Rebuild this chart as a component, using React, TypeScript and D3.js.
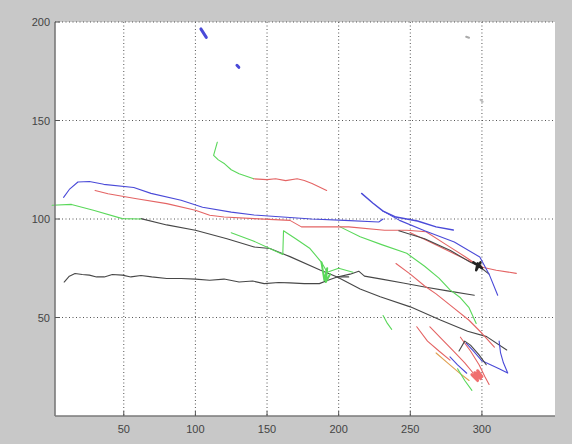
import * as d3 from "d3";

const W = 572, H = 444;
const M = { left: 55, right: 555, top: 22, bottom: 416 };

const xTicks = [50, 100, 150, 200, 250, 300];
const yTicks = [50, 100, 150, 200];

type Pt = [number, number];

// trajectories (image x, image y)
const blueMain: Pt[] = [[8, 111], [12, 115], [18, 118.8], [26, 119], [36, 117.6], [57, 116], [69, 113], [90, 109.5], [105, 106], [125, 103.5], [141, 102], [161, 101], [181, 100], [204, 99.3], [228, 98.5], [231, 100]];
const blueBranch: Pt[] = [[216, 113], [224, 108], [231, 104], [240, 101], [255, 99], [268, 96], [280, 94.4]];
const blueDown: Pt[] = [[231, 104], [242.5, 99.3], [260, 94], [280.7, 88.3], [298.5, 80.7], [305, 72], [311, 61.3]];
const redMain: Pt[] = [[30, 114.5], [39, 112.8], [59, 110.3], [80, 107.8], [100, 104.4], [110, 101.9], [120, 101], [141, 100.2], [166, 99.3], [174, 96], [191.6, 96], [207, 96], [232, 94.3], [247.6, 94.3], [261, 93.5], [275, 87], [288, 81], [298.7, 75.8], [310, 74], [324, 72.4]];
const redSecond: Pt[] = [[250, 93], [262, 89], [276, 84], [290, 79], [300, 76]];
const blackPair: Pt[] = [[242, 94], [260, 90], [278, 84], [292, 78], [298, 76], [305, 72]];
const greenLeft: Pt[] = [[0, 107], [13.5, 107.4], [28.8, 104.4], [49, 100.2], [62, 100]];
const blackLong: Pt[] = [[62, 100.2], [80, 97], [100, 94.3], [122, 90], [141, 85.8], [152, 85], [166, 80.9], [187, 74.1], [199, 70.6], [215, 64.5], [229, 60.5], [250, 55.4], [271, 48.7], [290, 43], [303.3, 40.3], [317.3, 33.5]];
const blackMid: Pt[] = [[199, 70.6], [208, 72], [214, 73.5], [218, 71], [230, 69.5], [245, 67.5], [260, 65.5], [276, 63.5], [294.7, 61.3]];
const blackWavy: Pt[] = [[8.4, 68], [12, 71], [16, 72.3], [21, 71.8], [26, 71.5], [31, 70.6], [36.4, 70.6], [42, 71.8], [49, 71.5], [55, 70.6], [62, 71.3], [69.5, 70.6], [80, 69.8], [90, 69.8], [100, 69.5], [110, 68.9], [120, 69.5], [130.5, 68], [140, 68.5], [148, 67.2], [158, 67.8], [166, 67.6], [176, 67.2], [186.5, 67.2], [193, 69], [199, 70.6], [207, 70.6]];
const greenMid: Pt[] = [[125, 93], [140, 89], [155, 84], [161, 82], [161.5, 94], [170, 90], [180, 85], [188, 78], [192, 73], [200, 75], [210, 73]];
const greenV: Pt[] = [[188, 78], [190, 69], [192, 75], [191, 68], [194, 72]];
const greenDiag: Pt[] = [[201, 96], [215, 91], [230, 87], [247.5, 82.6], [260, 76], [270, 70], [277.7, 64], [285, 60], [291, 55], [296, 47]];
const greenArc: Pt[] = [[115.3, 139], [112.7, 132.3], [116, 130], [120.4, 128], [125, 125], [130.5, 123], [140.7, 120.4]];
const redArc: Pt[] = [[140.7, 120.4], [150, 120], [156, 120.4], [163, 119.5], [171, 120.4], [176, 119.5], [181.4, 118], [191.6, 114.5]];
const redDiag: Pt[] = [[240, 77.4], [250, 72], [260, 66], [268, 62], [280, 55], [291, 48.6], [300, 42], [308.7, 35]];
const red1: Pt[] = [[254.5, 45.3], [262, 38], [270, 33], [277.7, 28.4]];
const red2: Pt[] = [[263.7, 45.3], [272, 39], [280, 33], [288, 27], [294, 21.7]];
const red3: Pt[] = [[285, 40], [292, 33], [298, 26], [302, 20], [305, 16]];
const redBlob: Pt[] = [[293, 21], [297, 18], [295, 22], [299, 19], [297, 23], [300, 20]];
const orange1: Pt[] = [[268, 32], [276, 27], [284, 22], [291, 18]];
const blue1: Pt[] = [[277.7, 30], [283, 26], [289.4, 21.7]];
const blueHook: Pt[] = [[289, 37], [294, 33], [300, 28], [306, 26], [312, 24], [318, 21.8], [315, 27], [313, 32], [312, 38]];
const blackHook: Pt[] = [[284, 33], [288, 38], [292, 36], [298, 31], [303, 26]];
const greenBottom: Pt[] = [[283, 24], [288, 18], [293, 13]];
const greenSmall: Pt[] = [[231, 51], [234, 47], [237, 44]];
const blueDot1: Pt[] = [[103.8, 196.5], [107.6, 192.2]];
const blueDot2: Pt[] = [[129, 178], [130.3, 177]];
const blackBlob: Pt[] = [[294, 78], [300, 75], [297, 77.5], [296, 74], [299, 78]];
const grayDot1: Pt[] = [[289, 192.5], [291, 192]];
const grayDot2: Pt[] = [[299, 160.5], [300.5, 159.5]];

const BLUE = "#4a4ad8", RED = "#e46464", GREEN = "#5ad85a", BLACK = "#474747", ORANGE = "#e0a050";

const tracks: { pts: Pt[]; color: string; w?: number }[] = [
  { pts: blackWavy, color: BLACK },
  { pts: blackLong, color: BLACK },
  { pts: blackMid, color: BLACK },
  { pts: greenLeft, color: GREEN },
  { pts: greenMid, color: GREEN },
  { pts: greenDiag, color: GREEN },
  { pts: greenArc, color: GREEN },
  { pts: redArc, color: RED },
  { pts: redMain, color: RED },
  { pts: redSecond, color: RED },
  { pts: blackPair, color: BLACK },
  { pts: blueMain, color: BLUE },
  { pts: blueBranch, color: BLUE, w: 1.4 },
  { pts: blueDown, color: BLUE },
  { pts: redDiag, color: RED },
  { pts: red1, color: RED },
  { pts: red2, color: RED },
  { pts: red3, color: RED },
  { pts: orange1, color: ORANGE },
  { pts: blue1, color: BLUE },
  { pts: blueHook, color: BLUE },
  { pts: blackHook, color: BLACK },
  { pts: greenBottom, color: GREEN },
  { pts: greenSmall, color: GREEN },
  { pts: greenV, color: GREEN, w: 2 },
  { pts: redBlob, color: "#f07070", w: 3 },
  { pts: blueDot1, color: BLUE, w: 3 },
  { pts: blueDot2, color: BLUE, w: 3 },
  { pts: blackBlob, color: "#222", w: 2.5 },
  { pts: grayDot1, color: "#aaa", w: 2 },
  { pts: grayDot2, color: "#bbb", w: 2 },
];

export default function App() {
  const x = d3.scaleLinear([2, 351], [M.left, M.right]);
  const y = d3.scaleLinear([0, 200], [M.bottom, M.top]);
  const line = d3.line<Pt>().x((d) => x(d[0])).y((d) => y(d[1]));
  const font = "'Liberation Sans', Arial, sans-serif";

  return (
    <div style={{ position: "fixed", left: 0, top: 0 }}>
      <svg width={W} height={H} style={{ display: "block", background: "#c8c8c8" }}>
        <rect x={M.left} y={M.top} width={M.right - M.left} height={M.bottom - M.top} fill="#fff" />
        {/* grid */}
        {xTicks.map((t) => (
          <line key={"gx" + t} x1={x(t)} x2={x(t)} y1={M.top} y2={M.bottom} stroke="#555" strokeWidth={1} strokeDasharray="1 2.5" />
        ))}
        {yTicks.map((t) => (
          <line key={"gy" + t} x1={M.left} x2={M.right} y1={y(t)} y2={y(t)} stroke="#555" strokeWidth={1} strokeDasharray="1 2.5" />
        ))}
        {/* trajectories */}
        {tracks.map((t, i) => (
          <path key={i} d={line(t.pts) ?? ""} fill="none" stroke={t.color} strokeWidth={t.w ?? 1.1} strokeLinejoin="round" strokeLinecap="round" />
        ))}
        {/* axes */}
        <line x1={M.left} x2={M.left} y1={M.top} y2={M.bottom} stroke="#7a7a7a" strokeWidth={1.6} />
        <line x1={M.left} x2={M.right} y1={M.bottom} y2={M.bottom} stroke="#7a7a7a" strokeWidth={1.6} />
        {xTicks.map((t) => (
          <g key={"tx" + t}>
            <line x1={x(t)} x2={x(t)} y1={M.bottom} y2={M.bottom - 5} stroke="#555" />
            <text x={x(t)} y={M.bottom + 17} textAnchor="middle" fontFamily={font} fontSize={11} fill="#444">{t}</text>
          </g>
        ))}
        {yTicks.map((t) => (
          <g key={"ty" + t}>
            <line x1={M.left} x2={M.left + 5} y1={y(t)} y2={y(t)} stroke="#555" />
            <text x={M.left - 5} y={y(t) + 4} textAnchor="end" fontFamily={font} fontSize={11} fill="#444">{t}</text>
          </g>
        ))}
      </svg>
    </div>
  );
}
